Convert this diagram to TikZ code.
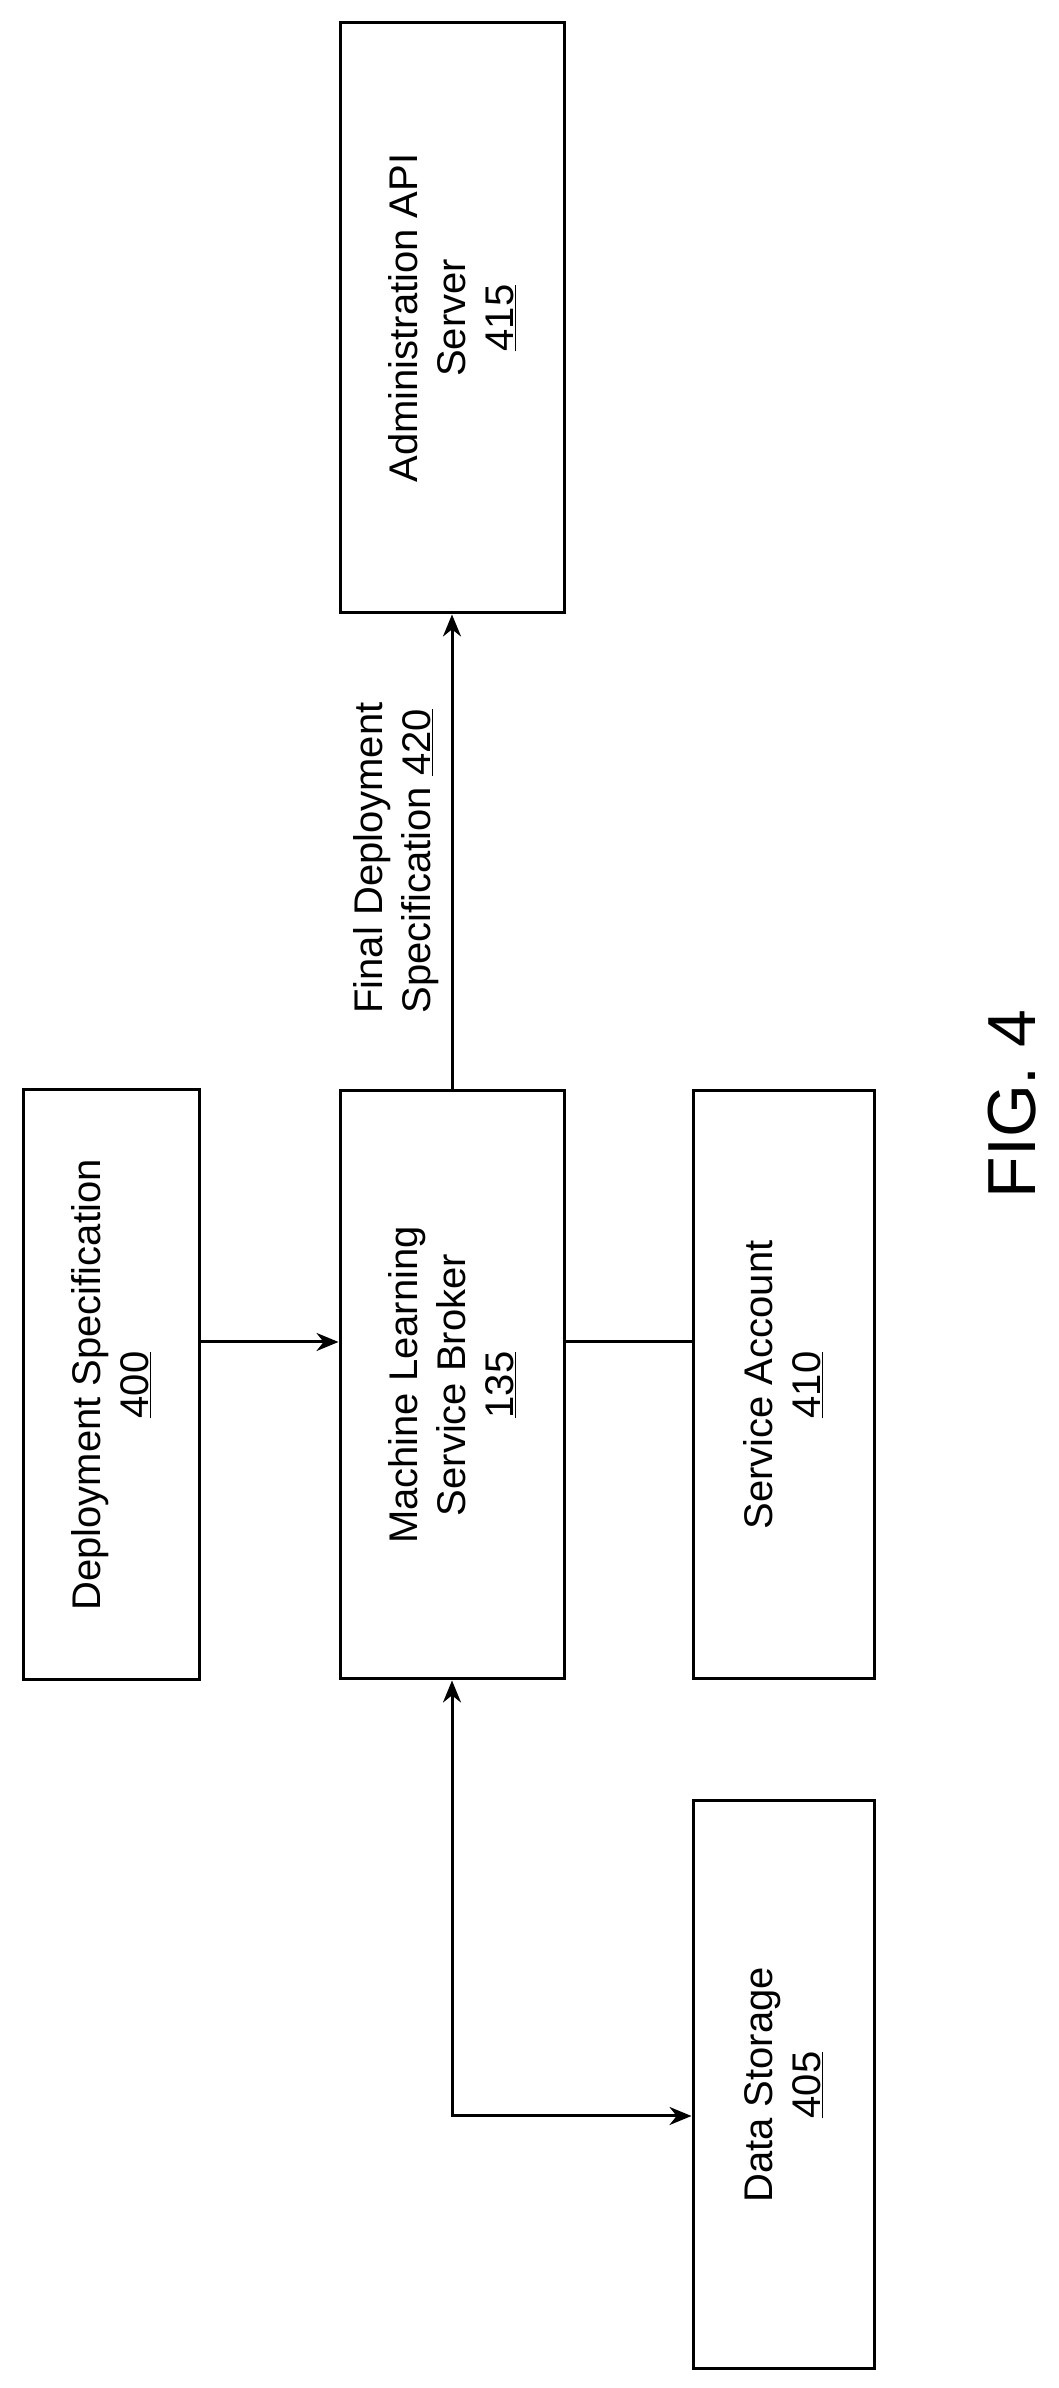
\documentclass[tikz,border=0pt]{standalone}
\usepackage{fontspec}
\usetikzlibrary{arrows.meta}
\setmainfont{Liberation Sans}
\begin{document}
\begin{tikzpicture}[x=1pt,y=1pt,
  box/.style={draw,line width=3pt,rotate=90,align=center,inner sep=0pt,font=\fontsize{40}{48}\selectfont},
  ar/.style={line width=3pt,-{Stealth[length=22pt,width=18pt]}},
  ln/.style={line width=3pt}]
\useasboundingbox (0,0) rectangle (1058,2388);
\node[box,minimum width=590,minimum height=176] (ds) at (111,1003) {Deployment Specification\\\underline{400}};
\node[box,minimum width=588,minimum height=224] (ml) at (452,1003) {Machine Learning\\Service Broker\\\underline{135}};
\node[box,minimum width=588,minimum height=181] (sa) at (783.5,1003) {Service Account\\\underline{410}};
\node[box,minimum width=590,minimum height=224] (ad) at (452,2070) {Administration API\\Server\\\underline{415}};
\node[box,minimum width=568,minimum height=181] (dt) at (783.5,303) {Data Storage\\\underline{405}};
\node[rotate=90,align=left,font=\fontsize{40}{48}\selectfont] (lb) at (396,1530) {Final Deployment\\Specification \underline{420}};
\node[rotate=90,font=\fontsize{68}{78}\selectfont] (fig) at (1012,1284) {FIG. 4};
\draw[ar] ([yshift=43]ds.south) -- ([yshift=43]ml.north);
\draw[ln] ([yshift=43]ml.south) -- ([yshift=43]sa.north);
\draw[ar] (ml.east) -- (ad.west);
\draw[ar,{Stealth[length=22pt,width=18pt]}-{Stealth[length=22pt,width=18pt]}] (ml.west) |- ([yshift=-31]dt.north);
\end{tikzpicture}
\end{document}
